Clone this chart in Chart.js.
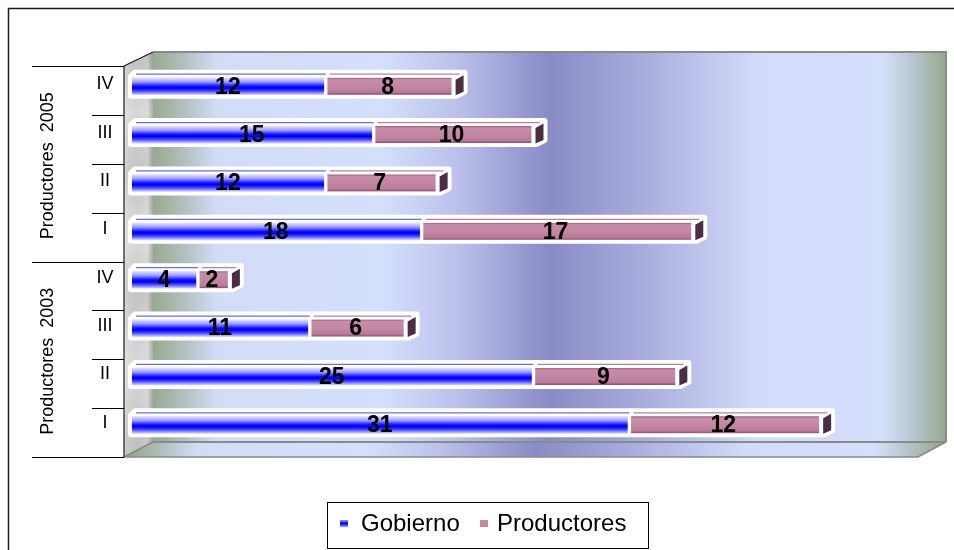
<!DOCTYPE html>
<html>
<head>
<meta charset="utf-8">
<script src="https://cdn.jsdelivr.net/npm/chart.js@4/dist/chart.umd.min.js"></script>
<style>
  html, body { margin: 0; padding: 0; background: #ffffff; }
  canvas { display: block; }
</style>
</head>
<body>
<canvas id="chart" width="954" height="550"></canvas>
<script>
// Quarterly contributions, grouped by producer year (top to bottom)
const groupNames = ['Productores  2005', 'Productores  2003'];
const groupSizes = [4, 4];
const quarters = ['IV', 'III', 'II', 'I', 'IV', 'III', 'II', 'I'];
const gobierno = [12, 15, 12, 18, 4, 11, 25, 31];
const productores = [8, 10, 7, 17, 2, 6, 9, 12];
const seriesNames = ['Gobierno', 'Productores'];
const axisMax = 50;

const FONT = "'Liberation Sans', Arial, sans-serif";
const HALF_BAR = 8.5;

// 3D frame of the plot: front plane (axis side) and back wall
const FRONT = { left: 124, top: 66, bottom: 457, right: 918 };
const BACK = { left: 153, top: 52, right: 946, bottom: 442 };

function wallGradient(ctx, x0, x1) {
  const g = ctx.createLinearGradient(x0, 0, x1, 0);
  g.addColorStop(0.00, '#97a98e');
  g.addColorStop(0.04, '#b3c0c0');
  g.addColorStop(0.08, '#d2dcf6');
  g.addColorStop(0.29, '#d4dffc');
  g.addColorStop(0.38, '#bcc2ec');
  g.addColorStop(0.50, '#898bc6');
  g.addColorStop(0.62, '#a9addd');
  g.addColorStop(0.76, '#d2dbfa');
  g.addColorStop(0.92, '#d4dffc');
  g.addColorStop(0.96, '#b6c4cc');
  g.addColorStop(1.00, '#97a98e');
  return g;
}

function blueFill(c) {
  const chart = c.chart;
  if (!chart.chartArea || c.dataIndex === undefined) return '#0000ff';
  const y = chart.scales.y.getPixelForValue(c.dataIndex);
  const g = chart.ctx.createLinearGradient(0, y - HALF_BAR, 0, y + HALF_BAR);
  g.addColorStop(0.00, '#e4e4ff');
  g.addColorStop(0.25, '#9a9aff');
  g.addColorStop(0.50, '#1010ff');
  g.addColorStop(0.62, '#0000f0');
  g.addColorStop(0.80, '#5050ff');
  g.addColorStop(1.00, '#d0d0ff');
  return g;
}

function pinkFill(c) {
  const chart = c.chart;
  if (!chart.chartArea || c.dataIndex === undefined) return '#c088a2';
  const y = chart.scales.y.getPixelForValue(c.dataIndex);
  const g = chart.ctx.createLinearGradient(0, y - HALF_BAR, 0, y + HALF_BAR);
  g.addColorStop(0.00, '#a45c7e');
  g.addColorStop(0.12, '#c68ea9');
  g.addColorStop(0.50, '#c387a3');
  g.addColorStop(0.85, '#bb7c99');
  g.addColorStop(1.00, '#8c4c6c');
  return g;
}

// Map a pixel on the category scale to the front plane of the frame
function frontY(chart, y) {
  const ca = chart.chartArea;
  return FRONT.top + (y - ca.top) * (FRONT.bottom - FRONT.top) / (ca.bottom - ca.top);
}

const frame3d = {
  id: 'frame3d',
  beforeDatasetsDraw(chart) {
    const ctx = chart.ctx;
    ctx.save();

    // back wall
    ctx.fillStyle = wallGradient(ctx, BACK.left, BACK.right);
    ctx.fillRect(BACK.left, BACK.top, BACK.right - BACK.left, BACK.bottom - BACK.top);

    // floor
    ctx.fillStyle = wallGradient(ctx, FRONT.left + 8, BACK.right - 6);
    ctx.beginPath();
    ctx.moveTo(FRONT.left, FRONT.bottom);
    ctx.lineTo(BACK.left, BACK.bottom);
    ctx.lineTo(BACK.right, BACK.bottom);
    ctx.lineTo(FRONT.right, FRONT.bottom);
    ctx.closePath();
    ctx.fill();

    // side wall (grey stone)
    const sg = ctx.createLinearGradient(0, BACK.top, 0, FRONT.bottom);
    sg.addColorStop(0.0, '#c4c4c4');
    sg.addColorStop(0.15, '#dedede');
    sg.addColorStop(0.3, '#c9c9c9');
    sg.addColorStop(0.45, '#e2e2e2');
    sg.addColorStop(0.6, '#cacaca');
    sg.addColorStop(0.78, '#e0e0e0');
    sg.addColorStop(1.0, '#c2c2c2');
    ctx.fillStyle = sg;
    ctx.beginPath();
    ctx.moveTo(FRONT.left, FRONT.top);
    ctx.lineTo(BACK.left, BACK.top);
    ctx.lineTo(BACK.left, BACK.bottom);
    ctx.lineTo(FRONT.left, FRONT.bottom);
    ctx.closePath();
    ctx.fill();
    const shade = ctx.createLinearGradient(FRONT.left, 0, BACK.left, 0);
    shade.addColorStop(0, 'rgba(255,255,255,0.15)');
    shade.addColorStop(0.8, 'rgba(0,0,0,0.0)');
    shade.addColorStop(1, 'rgba(0,0,0,0.22)');
    ctx.fillStyle = shade;
    ctx.fill();

    // frame edges
    ctx.strokeStyle = '#8a8a8a';
    ctx.lineWidth = 2;
    ctx.beginPath();
    ctx.moveTo(BACK.left, BACK.top);
    ctx.lineTo(BACK.right, BACK.top);
    ctx.lineTo(BACK.right, BACK.bottom);
    ctx.stroke();
    ctx.beginPath();
    ctx.moveTo(BACK.left, BACK.bottom);
    ctx.lineTo(BACK.right, BACK.bottom);
    ctx.stroke();
    ctx.lineWidth = 1.5;
    ctx.beginPath();
    ctx.moveTo(FRONT.left, FRONT.bottom);
    ctx.lineTo(FRONT.right, FRONT.bottom);
    ctx.lineTo(BACK.right, BACK.bottom);
    ctx.stroke();
    ctx.beginPath();
    ctx.moveTo(FRONT.left, FRONT.bottom);
    ctx.lineTo(BACK.left, BACK.bottom);
    ctx.stroke();

    ctx.strokeStyle = '#1a1a1a';
    ctx.lineWidth = 1.2;
    ctx.beginPath();
    ctx.moveTo(FRONT.left, FRONT.top);
    ctx.lineTo(BACK.left, BACK.top);
    ctx.stroke();
    ctx.beginPath();
    ctx.moveTo(FRONT.left, FRONT.top);
    ctx.lineTo(FRONT.left, FRONT.bottom);
    ctx.stroke();

    // white outline behind each stacked bar
    const m0 = chart.getDatasetMeta(0).data;
    const m1 = chart.getDatasetMeta(1).data;
    ctx.fillStyle = '#ffffff';
    ctx.strokeStyle = '#ffffff';
    ctx.lineWidth = 6;
    ctx.lineJoin = 'round';
    for (let i = 0; i < m0.length; i++) {
      const x0 = m0[i].base, xR = m1[i].x, y = m0[i].y;
      const yT = y - HALF_BAR, yB = y + HALF_BAR;
      ctx.beginPath();
      ctx.moveTo(x0 - 1, yT - 1);
      ctx.lineTo(x0 + 3, yT - 5);
      ctx.lineTo(xR + 13, yT - 5);
      ctx.lineTo(xR + 13, yB - 3);
      ctx.lineTo(xR + 5, yB + 1);
      ctx.lineTo(x0 - 1, yB + 1);
      ctx.closePath();
      ctx.fill();
      ctx.stroke();
    }
    ctx.restore();
  },
  afterDatasetsDraw(chart) {
    const ctx = chart.ctx;
    const m0 = chart.getDatasetMeta(0).data;
    const m1 = chart.getDatasetMeta(1).data;
    const yScale = chart.scales.y;
    ctx.save();

    for (let i = 0; i < m0.length; i++) {
      const b = m0[i], p = m1[i];
      const yT = b.y - HALF_BAR, yB = b.y + HALF_BAR;
      // top faces
      ctx.lineWidth = 1.2;
      ctx.strokeStyle = 'rgba(60,60,230,0.75)';
      ctx.beginPath();
      ctx.moveTo(b.base + 4, yT - 3.5);
      ctx.lineTo(b.x + 2, yT - 3.5);
      ctx.stroke();
      ctx.strokeStyle = 'rgba(160,90,125,0.75)';
      ctx.beginPath();
      ctx.moveTo(p.base + 6, yT - 3.5);
      ctx.lineTo(p.x + 8, yT - 3.5);
      ctx.stroke();
      // end face
      ctx.fillStyle = '#4a2f40';
      ctx.beginPath();
      ctx.moveTo(p.x + 4, yT + 2);
      ctx.lineTo(p.x + 12, yT - 2.5);
      ctx.lineTo(p.x + 12, yB - 3);
      ctx.lineTo(p.x + 4, yB + 0.5);
      ctx.closePath();
      ctx.fill();
    }

    // value labels
    ctx.fillStyle = '#000000';
    ctx.font = 'bold 23px ' + FONT;
    ctx.textAlign = 'center';
    ctx.textBaseline = 'middle';
    chart.data.datasets.forEach((ds, d) => {
      chart.getDatasetMeta(d).data.forEach((el, i) => {
        ctx.fillText(String(ds.data[i]), (el.x + el.base) / 2, el.y + 1);
      });
    });

    // category labels
    ctx.font = '18px ' + FONT;
    chart.data.labels.forEach((lab, i) => {
      ctx.fillText(lab, 105, yScale.getPixelForValue(i) - 2);
    });

    // tick marks and group labels on the category axis
    ctx.strokeStyle = '#000000';
    ctx.lineWidth = 1;
    const ca = chart.chartArea;
    const n = chart.data.labels.length;
    const step = (ca.bottom - ca.top) / n;
    let start = 0;
    groupNames.forEach((name, g) => {
      const end = start + groupSizes[g];
      for (let k = start; k <= end; k++) {
        const fy = Math.round(frontY(chart, ca.top + k * step)) + 0.5;
        const outer = (k === start || k === end);
        ctx.beginPath();
        ctx.moveTo(outer ? 32 : 92, fy);
        ctx.lineTo(FRONT.left, fy);
        ctx.stroke();
      }
      const cy = (frontY(chart, ca.top + start * step) + frontY(chart, ca.top + end * step)) / 2;
      ctx.save();
      ctx.translate(48, cy + 2);
      ctx.rotate(-Math.PI / 2);
      ctx.font = '18px ' + FONT;
      ctx.fillText(name, 0, 0);
      ctx.restore();
      start = end;
    });

    // legend
    ctx.strokeStyle = '#000000';
    ctx.lineWidth = 1;
    ctx.strokeRect(327.5, 502.5, 321, 46);
    ctx.font = '24px ' + FONT;
    ctx.textAlign = 'left';
    const lg = ctx.createLinearGradient(0, 520, 0, 527);
    lg.addColorStop(0, '#9a9aff');
    lg.addColorStop(0.5, '#0000f0');
    lg.addColorStop(1, '#a0a0ff');
    ctx.fillStyle = lg;
    ctx.fillRect(340, 520, 8, 7);
    ctx.fillStyle = '#c088a2';
    ctx.fillRect(480, 520, 8, 7);
    ctx.fillStyle = '#000000';
    ctx.fillText(seriesNames[0], 361, 524);
    ctx.fillText(seriesNames[1], 497, 524);

    // outer border
    ctx.strokeStyle = '#1e1e1e';
    ctx.lineWidth = 1.5;
    ctx.strokeRect(8.5, 8.5, 1000, 600);
    ctx.restore();
  }
};

new Chart(document.getElementById('chart'), {
  type: 'bar',
  data: {
    labels: quarters,
    datasets: [
      {
        label: seriesNames[0],
        data: gobierno,
        backgroundColor: blueFill,
        borderWidth: 0,
        barThickness: 17
      },
      {
        label: seriesNames[1],
        data: productores,
        backgroundColor: pinkFill,
        borderColor: '#ffffff',
        borderWidth: { left: 4, top: 0, right: 0, bottom: 0 },
        borderSkipped: false,
        barThickness: 17
      }
    ]
  },
  options: {
    indexAxis: 'y',
    responsive: false,
    animation: false,
    devicePixelRatio: 1,
    layout: { padding: { left: 132, right: 23, top: 62, bottom: 101 } },
    scales: {
      x: { stacked: true, min: 0, max: axisMax, display: false },
      y: { stacked: true, display: false }
    },
    plugins: {
      legend: { display: false },
      tooltip: { enabled: false }
    }
  },
  plugins: [frame3d]
});
</script>
</body>
</html>
